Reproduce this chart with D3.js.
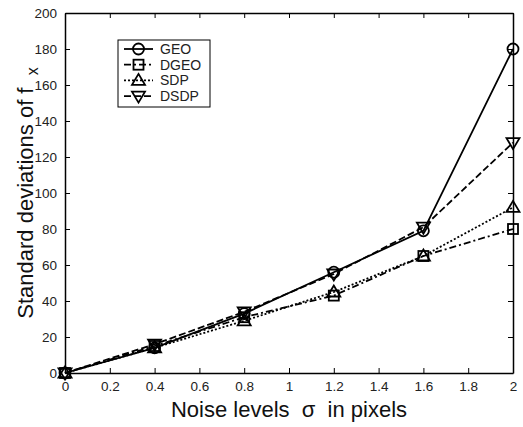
<!DOCTYPE html>
<html><head><meta charset="utf-8">
<script src="https://cdn.jsdelivr.net/npm/d3@7"></script>
<style>body{margin:0;background:#fff}svg{display:block}text{font-family:Arial,"Liberation Sans",sans-serif}</style>
</head><body>
<script>
const xs = [0, 0.4, 0.8, 1.2, 1.6, 2];
const geo  = [0, 14, 33, 56, 79, 180];
const dgeo = [0, 15, 31, 43, 65, 80];
const sdp  = [0, 14, 29, 45, 65, 92];
const dsdp = [0, 16, 34, 55, 81, 128];
const seriesNames = ["GEO", "DGEO", "SDP", "DSDP"];
const xTicks = [0, 0.2, 0.4, 0.6, 0.8, 1, 1.2, 1.4, 1.6, 1.8, 2];
const yTicks = [0, 20, 40, 60, 80, 100, 120, 140, 160, 180, 200];

const W = 523, H = 427;
const m = {l: 65, r: 10, t: 13, b: 54};
const svg = d3.select("body").append("svg").attr("width", W).attr("height", H);
const x = d3.scaleLinear().domain([0, 2]).range([m.l, W - m.r]);
const y = d3.scaleLinear().domain([0, 200]).range([H - m.b, m.t]);

const series = [
  {name: seriesNames[0], v: geo, dash: null, sym: "circle"},
  {name: seriesNames[1], v: dgeo, dash: "7,3,2,3", sym: "square"},
  {name: seriesNames[2], v: sdp, dash: "2,2", sym: "up"},
  {name: seriesNames[3], v: dsdp, dash: "7,3", sym: "down"}
];

const fmt = d => String(d);
svg.append("g").attr("transform", `translate(0,${y(0)})`)
  .call(d3.axisBottom(x).tickValues(xTicks).tickFormat(fmt).tickSizeInner(-5).tickSizeOuter(0).tickPadding(8));
svg.append("g").attr("transform", `translate(0,${y(200)})`)
  .call(d3.axisTop(x).tickValues(xTicks).tickFormat("").tickSizeInner(-5).tickSizeOuter(0));
svg.append("g").attr("transform", `translate(${x(0)},0)`)
  .call(d3.axisLeft(y).tickValues(yTicks).tickFormat(fmt).tickSizeInner(-5).tickSizeOuter(0).tickPadding(8));
svg.append("g").attr("transform", `translate(${x(2)},0)`)
  .call(d3.axisRight(y).tickValues(yTicks).tickFormat("").tickSizeInner(-5).tickSizeOuter(0));
svg.selectAll(".domain").attr("stroke", "#000").attr("stroke-width", 1.5);
svg.selectAll(".tick line").attr("stroke", "#000");
svg.selectAll(".tick text").attr("font-size", 13.5).attr("fill", "#222")
  .style("font-family", "Arial, 'Liberation Sans', sans-serif");

function marker(g, sym, cx, cy) {
  if (sym === "circle") g.append("circle").attr("cx", cx).attr("cy", cy).attr("r", 5.5);
  else if (sym === "square") g.append("rect").attr("x", cx - 5).attr("y", cy - 5).attr("width", 10).attr("height", 10);
  else if (sym === "up") g.append("path").attr("d", `M${cx},${cy - 6.5}L${cx + 6.5},${cy + 4.5}L${cx - 6.5},${cy + 4.5}Z`);
  else g.append("path").attr("d", `M${cx},${cy + 6.5}L${cx + 6.5},${cy - 4.5}L${cx - 6.5},${cy - 4.5}Z`);
}

const line = d3.line().x((d, i) => x(xs[i])).y(d => y(d));
series.forEach(s => {
  svg.append("path").datum(s.v).attr("d", line).attr("fill", "none")
    .attr("stroke", "#000").attr("stroke-width", 1.8)
    .attr("stroke-dasharray", s.dash);
  const g = svg.append("g").attr("fill", "none").attr("stroke", "#000").attr("stroke-width", 1.8);
  s.v.forEach((v, i) => marker(g, s.sym, x(xs[i]), y(v)));
});

// legend
const lg = svg.append("g");
lg.append("rect").attr("x", 118).attr("y", 40).attr("width", 92).attr("height", 67)
  .attr("fill", "#fff").attr("stroke", "#000").attr("stroke-width", 1);
series.forEach((s, i) => {
  const ly = 49 + i * 15.7;
  lg.append("line").attr("x1", 124).attr("x2", 153).attr("y1", ly).attr("y2", ly)
    .attr("stroke", "#000").attr("stroke-width", 1.8).attr("stroke-dasharray", s.dash);
  const g = lg.append("g").attr("fill", "none").attr("stroke", "#000").attr("stroke-width", 1.8);
  marker(g, s.sym, 138.5, ly);
  lg.append("text").attr("x", 160).attr("y", ly + 5).attr("font-size", 14).attr("fill", "#222").text(s.name);
});

// axis labels
svg.append("text").attr("x", (x(0) + x(2)) / 2).attr("y", 417).attr("text-anchor", "middle")
  .attr("font-size", 22).attr("fill", "#111").style("white-space", "pre")
  .text("Noise levels  σ  in pixels");
const yl = svg.append("text").attr("transform", `translate(33,${(y(0) + y(200)) / 2}) rotate(-90)`)
  .attr("text-anchor", "middle").attr("font-size", 22).attr("fill", "#111").style("white-space", "pre");
yl.append("tspan").text("Standard deviations of f  ");
yl.append("tspan").attr("font-size", 16).attr("dy", 5).text("x");
</script>
</body></html>
